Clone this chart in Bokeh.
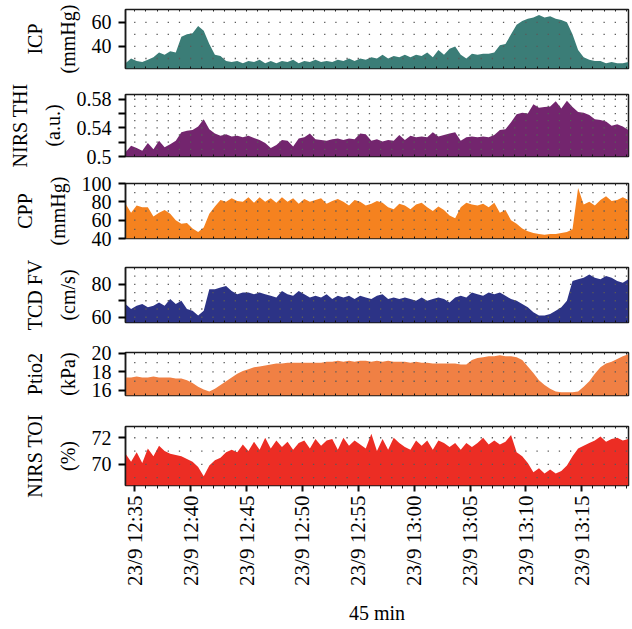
import math
import numpy as np
from bokeh.plotting import figure
from bokeh.layouts import column
from bokeh.models import FixedTicker, LinearAxis, Range1d
from bokeh.embed import file_html
from bokeh.resources import INLINE

# time: minutes after 12:00, one sample every 30 s
t_start = 34.17
t_step = 0.5
x_end = 79.18

icp = [26, 30, 28, 27, 29, 31, 35, 33, 36, 35,
       48, 50, 51, 57, 53, 42, 33, 32, 28, 27,
       28, 26, 28, 27, 29, 26, 28, 26, 28, 27,
       29, 26, 28, 27, 29, 27, 28, 27, 29, 28,
       30, 28, 30, 29, 31, 30, 33, 30, 32, 31,
       33, 31, 33, 32, 35, 31, 37, 33, 38, 40,
       33, 30, 34, 33, 34, 34, 35, 41, 42, 50,
       58, 61, 63, 64, 66, 64, 65, 63, 62, 60,
       50, 37, 31, 29, 28, 28, 26, 27, 26, 26, 27]

thi = [0.506, 0.515, 0.512, 0.508, 0.519, 0.510, 0.522, 0.513, 0.517, 0.522,
       0.534, 0.536, 0.537, 0.542, 0.552, 0.538, 0.532, 0.529, 0.531, 0.528,
       0.529, 0.527, 0.529, 0.526, 0.523, 0.519, 0.512, 0.516, 0.523, 0.522,
       0.514, 0.525, 0.527, 0.532, 0.524, 0.523, 0.522, 0.524, 0.525, 0.523,
       0.525, 0.524, 0.532, 0.531, 0.522, 0.524, 0.521, 0.523, 0.522, 0.530,
       0.523, 0.529, 0.527, 0.528, 0.527, 0.534, 0.528, 0.530, 0.532, 0.534,
       0.522, 0.527, 0.528, 0.527, 0.528, 0.527, 0.530, 0.537, 0.538, 0.548,
       0.559, 0.561, 0.560, 0.573, 0.568, 0.569, 0.570, 0.577, 0.567, 0.578,
       0.569, 0.562, 0.561, 0.558, 0.552, 0.551, 0.549, 0.543, 0.545, 0.542, 0.537]

cpp = [78, 68, 76, 74, 74, 64, 68, 71, 67, 60,
       56, 57, 51, 47, 52, 67, 75, 82, 80, 84,
       81, 80, 85, 79, 85, 80, 84, 79, 85, 80,
       84, 78, 83, 80, 82, 84, 78, 81, 83, 80,
       76, 82, 80, 76, 78, 81, 79, 74, 72, 78,
       76, 72, 77, 79, 74, 70, 75, 71, 65, 62,
       74, 79, 77, 76, 78, 74, 79, 68, 71, 60,
       56, 51, 48, 46, 45, 44, 45, 45, 46, 47,
       50, 95, 77, 80, 76, 82, 86, 81, 82, 85, 82]

tcd = [68, 65, 67, 68, 66, 67, 69, 67, 71, 68,
       70, 65, 64, 61, 64, 77, 77, 78, 79, 76,
       74, 75, 75, 74, 75, 74, 73, 72, 76, 74,
       73, 76, 74, 72, 73, 72, 74, 71, 73, 72,
       73, 71, 73, 72, 71, 73, 74, 71, 72, 71,
       72, 71, 70, 72, 70, 71, 72, 71, 69, 72,
       73, 72, 75, 74, 73, 75, 74, 75, 73, 71,
       70, 68, 66, 63, 61, 61, 62, 64, 66, 70,
       82, 83, 84, 86, 84, 83, 85, 84, 82, 81, 83]

ptio2 = [17.4, 17.4, 17.5, 17.4, 17.4, 17.5, 17.4, 17.4, 17.4, 17.3,
         17.3, 17.1, 16.8, 16.4, 16.1, 15.9, 16.2, 16.6, 17.0, 17.4,
         17.8, 18.1, 18.3, 18.5, 18.6, 18.7, 18.8, 18.9, 18.9, 19.0,
         19.0, 19.0, 19.0, 19.0, 19.0, 19.0, 19.1, 19.1, 19.2, 19.1,
         19.2, 19.1, 19.2, 19.2, 19.1, 19.2, 19.1, 19.2, 19.1, 19.1,
         19.1, 19.0, 19.1, 19.0, 19.0, 18.9, 18.9, 18.9, 18.9, 18.9,
         18.8, 18.8, 19.3, 19.5, 19.6, 19.7, 19.7, 19.8, 19.7, 19.7,
         19.6, 19.3, 18.6, 17.9, 17.1, 16.6, 16.2, 15.9, 15.8, 15.8,
         15.8, 15.9, 16.4, 17.0, 17.8, 18.5, 18.9, 19.1, 19.4, 19.7, 19.9]

toi = [70.8, 70.2, 70.9, 70.1, 71.2, 70.6, 71.4, 71.0, 70.8, 70.7,
       70.6, 70.4, 70.2, 69.8, 69.1, 69.9, 70.3, 70.5, 70.9, 71.1,
       70.9, 71.5, 71.0, 71.7, 71.1, 72.0, 71.2, 71.8, 71.3, 71.7,
       71.1, 71.6, 71.8, 71.2, 71.9, 71.4, 71.8, 71.9, 71.1, 72.0,
       71.4, 71.8, 71.5, 71.2, 72.3, 71.0, 71.9, 71.1, 72.0, 71.6,
       71.3, 71.1, 71.8, 71.4, 71.8, 71.1, 71.8, 71.6, 71.3, 71.6,
       71.1, 71.6, 71.3, 71.6, 72.0, 71.5, 71.8, 71.5, 71.7, 72.2,
       70.9, 70.6, 70.1, 69.4, 69.7, 69.3, 69.6, 69.3, 69.5, 69.9,
       70.6, 71.2, 71.4, 71.6, 71.8, 72.1, 71.7, 71.9, 72.0, 71.8, 71.9]

x_ticks = [35, 40, 45, 50, 55, 60, 65, 70, 75]
x_tick_labels = ["23/9 12:35", "23/9 12:40", "23/9 12:45", "23/9 12:50", "23/9 12:55",
                 "23/9 13:00", "23/9 13:05", "23/9 13:10", "23/9 13:15"]
x_minor = list(range(35, 80))
x_title = "45 min"

FONT = "Liberation Serif"

panels = [
    dict(vals=icp, color="#3b7d77", name="ICP", unit="(mmHg)", yr=(21.7, 70.6),
         ticks=[40, 60], blank=[], rows=[30, 40, 50, 60], top=9, fh=59, bottom=13),
    dict(vals=thi, color="#73256e", name="NIRS THI", unit="(a.u.)", yr=(0.5, 0.5866),
         ticks=[0.5, 0.52, 0.54, 0.56, 0.58], blank=[0.52, 0.56],
         rows=[0.51, 0.52, 0.53, 0.54, 0.55, 0.56, 0.57, 0.58], top=13, fh=62, bottom=13),
    dict(vals=cpp, color="#f5821f", name="CPP", unit="(mmHg)", yr=(40, 100),
         ticks=[40, 60, 80, 100], blank=[], rows=[50, 60, 70, 80, 90], top=14, fh=55, bottom=14),
    dict(vals=tcd, color="#2c3386", name="TCD FV", unit="(cm/s)", yr=(56.8, 90.2),
         ticks=[60, 70, 80], blank=[70], rows=[60, 65, 70, 75, 80, 85], top=15, fh=55, bottom=15),
    dict(vals=ptio2, color="#f08044", name="Ptio2", unit="(kPa)", yr=(15.46, 20.1),
         ticks=[16, 18, 20], blank=[], rows=[17, 18, 19], top=15, fh=43, bottom=15),
    dict(vals=toi, color="#ec2d24", name="NIRS TOI", unit="(%)", yr=(68.4, 72.85),
         ticks=[70, 72], blank=[], rows=[69, 70, 71, 72], top=16, fh=59, bottom=140),
]

figs = []
n_p = len(panels)
for k, pd in enumerate(panels):
    last = (k == n_p - 1)
    n = len(pd["vals"])
    t = t_start + t_step * np.arange(n)
    ylo, yhi = pd["yr"]
    p = figure(frame_width=503, frame_height=pd["fh"],
               x_range=Range1d(t_start, x_end), y_range=Range1d(ylo, yhi),
               output_backend="svg", toolbar_location=None,
               min_border_left=125, min_border_right=4,
               min_border_top=pd["top"], min_border_bottom=pd["bottom"],
               background_fill_color="white", border_fill_color="white",
               outline_line_color="#1a1a1a", outline_line_width=1.5)
    p.xgrid.visible = False
    p.ygrid.visible = False

    p.varea(x=t, y1=ylo, y2=pd["vals"], fill_color=pd["color"])

    gx, gy = np.meshgrid(x_minor, pd["rows"])
    p.scatter(x=gx.ravel(), y=gy.ravel(), marker="square", size=1.3,
              fill_color="#5a5a5a", line_color=None)

    # inner y axis (ticks + unit label)
    ya = p.left[0]
    ya.ticker = FixedTicker(ticks=pd["ticks"])
    ya.major_label_overrides = {v: "" for v in pd["blank"]}
    if k == 1:
        ya.major_label_overrides = {0.5: "0.5", 0.52: "", 0.54: "0.54", 0.56: "", 0.58: "0.58"}
    ya.major_tick_out = 7
    ya.major_tick_in = 0
    ya.minor_tick_out = 0
    ya.minor_tick_in = 0
    ya.major_tick_line_width = 2
    ya.major_tick_line_color = "black"
    ya.axis_line_color = "#1a1a1a"
    ya.axis_line_width = 1.5
    ya.major_label_text_font = FONT
    ya.major_label_text_font_size = "20px"
    ya.major_label_text_color = "black"
    ya.major_label_standoff = 7
    ya.axis_label = pd["unit"]
    ya.axis_label_text_font = FONT
    ya.axis_label_text_font_size = "20px"
    ya.axis_label_text_font_style = "normal"
    ya.axis_label_text_color = "black"
    ya.axis_label_standoff = 10

    # bottom axis (configure before any extra axes are added)
    xa = p.below[0]
    xa.axis_line_color = None
    xa.major_tick_line_color = "#111"
    xa.minor_tick_line_color = "#111"
    if last:
        xa.ticker = FixedTicker(ticks=x_ticks, minor_ticks=x_minor)
        xa.major_tick_out = 6
        xa.major_tick_in = 0
        xa.minor_tick_out = 3
        xa.minor_tick_in = 0
        xa.major_tick_line_width = 2
        xa.major_label_overrides = {v: s for v, s in zip(x_ticks, x_tick_labels)}
        xa.major_label_orientation = math.pi / 2
        xa.major_label_text_font = FONT
        xa.major_label_text_font_size = "21px"
        xa.major_label_text_color = "black"
        xa.major_label_standoff = 4
        xa.axis_label = x_title
        xa.axis_label_text_font = FONT
        xa.axis_label_text_font_size = "20px"
        xa.axis_label_text_font_style = "normal"
        xa.axis_label_text_color = "black"
        xa.axis_label_standoff = 13
    else:
        xa.ticker = FixedTicker(ticks=[], minor_ticks=x_minor)
        xa.major_tick_out = 0
        xa.major_tick_in = 0
        xa.minor_tick_out = 0
        xa.minor_tick_in = 2
        xa.major_label_standoff = 0

    # outer y axis (name label only)
    oa = LinearAxis(ticker=FixedTicker(ticks=[]), axis_line_color=None,
                    major_tick_out=0, major_tick_in=0, minor_tick_out=0, minor_tick_in=0,
                    major_label_standoff=0,
                    axis_label=pd["name"], axis_label_text_font=FONT,
                    axis_label_text_font_size="20px", axis_label_text_font_style="normal",
                    axis_label_text_color="black", axis_label_standoff=8)
    p.add_layout(oa, "left")

    # top axis: ticks inside, no labels
    ta = LinearAxis(ticker=FixedTicker(ticks=[], minor_ticks=x_minor), axis_line_color=None,
                    major_tick_out=0, major_tick_in=0, minor_tick_out=0, minor_tick_in=2,
                    major_label_standoff=0, minor_tick_line_color="#222")
    p.add_layout(ta, "above")

    figs.append(p)

layout = column(*figs, spacing=0)
open("out.html", "w").write(file_html(layout, INLINE))
